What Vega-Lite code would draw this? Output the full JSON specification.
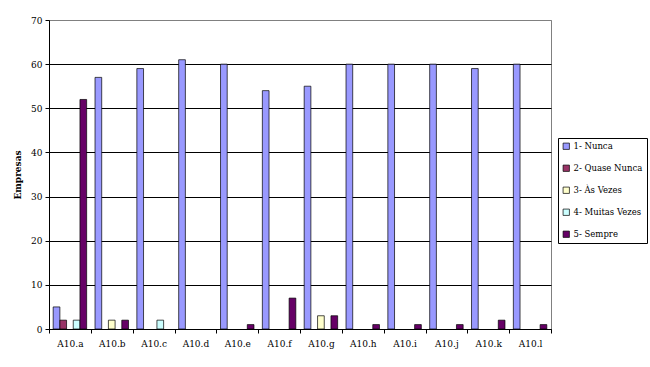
{
  "$schema": "https://vega.github.io/schema/vega-lite/v6.json",
  "width": 502,
  "height": 309,
  "autosize": "none",
  "padding": {"left": 49, "top": 20, "right": 99, "bottom": 38},
  "background": "white",
  "config": {
    "font": "DejaVu Serif",
    "axis": {"labelFont": "DejaVu Serif", "titleFont": "DejaVu Serif"},
    "legend": {"labelFont": "DejaVu Serif"},
    "view": {"stroke": "#808080", "strokeWidth": 1}
  },
  "data": {
    "values": [
      {"item": "A10.a", "resp": "1- Nunca", "n": 5},
      {"item": "A10.a", "resp": "2- Quase Nunca", "n": 2},
      {"item": "A10.a", "resp": "4- Muitas Vezes", "n": 2},
      {"item": "A10.a", "resp": "5- Sempre", "n": 52},
      {"item": "A10.b", "resp": "1- Nunca", "n": 57},
      {"item": "A10.b", "resp": "3- Às Vezes", "n": 2},
      {"item": "A10.b", "resp": "5- Sempre", "n": 2},
      {"item": "A10.c", "resp": "1- Nunca", "n": 59},
      {"item": "A10.c", "resp": "4- Muitas Vezes", "n": 2},
      {"item": "A10.d", "resp": "1- Nunca", "n": 61},
      {"item": "A10.e", "resp": "1- Nunca", "n": 60},
      {"item": "A10.e", "resp": "5- Sempre", "n": 1},
      {"item": "A10.f", "resp": "1- Nunca", "n": 54},
      {"item": "A10.f", "resp": "5- Sempre", "n": 7},
      {"item": "A10.g", "resp": "1- Nunca", "n": 55},
      {"item": "A10.g", "resp": "3- Às Vezes", "n": 3},
      {"item": "A10.g", "resp": "5- Sempre", "n": 3},
      {"item": "A10.h", "resp": "1- Nunca", "n": 60},
      {"item": "A10.h", "resp": "5- Sempre", "n": 1},
      {"item": "A10.i", "resp": "1- Nunca", "n": 60},
      {"item": "A10.i", "resp": "5- Sempre", "n": 1},
      {"item": "A10.j", "resp": "1- Nunca", "n": 60},
      {"item": "A10.j", "resp": "5- Sempre", "n": 1},
      {"item": "A10.k", "resp": "1- Nunca", "n": 59},
      {"item": "A10.k", "resp": "5- Sempre", "n": 2},
      {"item": "A10.l", "resp": "1- Nunca", "n": 60},
      {"item": "A10.l", "resp": "5- Sempre", "n": 1}
    ]
  },
  "mark": {"type": "bar", "stroke": "black", "strokeWidth": 0.7},
  "encoding": {
    "x": {
      "field": "item",
      "type": "nominal",
      "scale": {"domain": ["A10.a","A10.b","A10.c","A10.d","A10.e","A10.f","A10.g","A10.h","A10.i","A10.j","A10.k","A10.l"], "paddingInner": 0, "paddingOuter": 0},
      "axis": {"title": null, "labelAngle": 0, "tickBand": "extent", "domainColor": "black", "tickColor": "black", "tickSize": 4, "labelFontSize": 9, "labelColor": "black", "labelPadding": 6}
    },
    "xOffset": {
      "field": "resp",
      "type": "nominal",
      "scale": {"domain": ["1- Nunca","2- Quase Nunca","3- Às Vezes","4- Muitas Vezes","5- Sempre"], "paddingInner": 0, "paddingOuter": 0.625}
    },
    "y": {
      "field": "n",
      "type": "quantitative",
      "scale": {"domain": [0, 70]},
      "axis": {
        "title": "Empresas",
        "values": [0, 10, 20, 30, 40, 50, 60, 70],
        "grid": true,
        "gridColor": {"condition": {"test": "datum.value == 70", "value": "#808080"}, "value": "black"},
        "gridOpacity": 1,
        "domainColor": "black",
        "tickColor": "black",
        "tickSize": 4,
        "labelFontSize": 9,
        "labelColor": "black",
        "labelPadding": 3,
        "titleFontSize": 9,
        "titleFontWeight": "bold",
        "titleColor": "black",
        "titlePadding": 8
      }
    },
    "color": {
      "field": "resp",
      "type": "nominal",
      "scale": {"domain": ["1- Nunca","2- Quase Nunca","3- Às Vezes","4- Muitas Vezes","5- Sempre"], "range": ["#9999FF","#993366","#FFFFCC","#CCFFFF","#660066"]},
      "legend": {
        "title": null,
        "orient": "none",
        "legendX": 509,
        "legendY": 118,
        "strokeColor": "black",
        "fillColor": "white",
        "padding": 4,
        "symbolType": "square",
        "symbolSize": 40,
        "symbolStrokeColor": "black",
        "symbolStrokeWidth": 0.7,
        "labelFontSize": 8.5,
        "labelColor": "black",
        "rowPadding": 12,
        "labelOffset": 3
      }
    }
  }
}
